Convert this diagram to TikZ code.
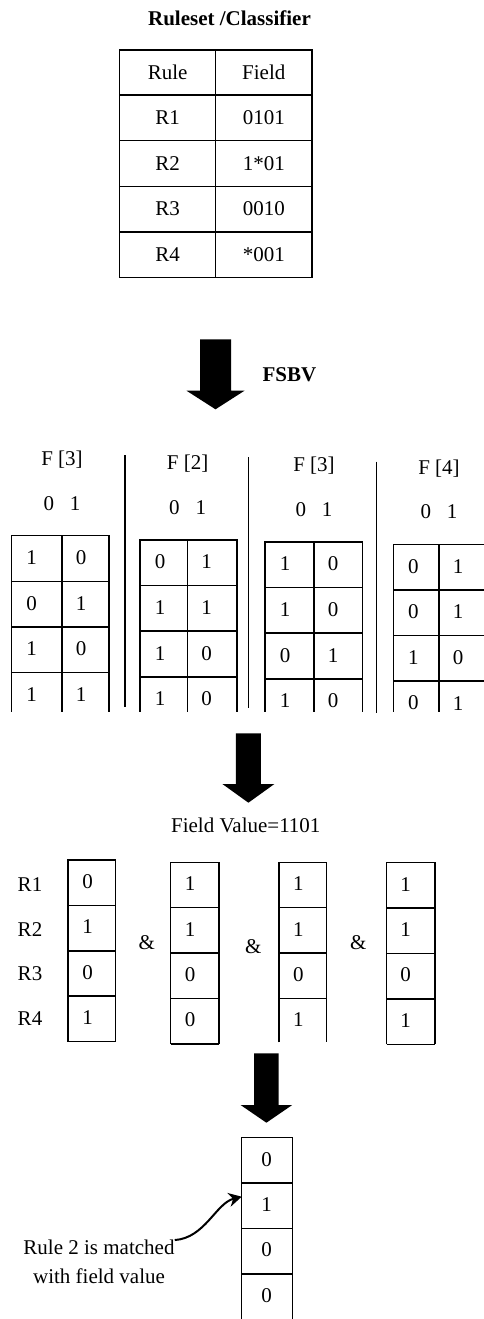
\documentclass[tikz,border=0pt]{standalone}
\usepackage{fontspec}
\setmainfont{Liberation Serif}
\usetikzlibrary{arrows.meta}

\tikzset{
  grid line/.style={line width=1.5pt},
  big arrow/.style={fill=black},
  bold text/.style={font=\fontsize{21}{25}\selectfont\bfseries},
}

% block arrow pointing down: centre x, top, shaft half width, head half width, head start, tip
\newcommand{\blockdown}[6]{%
  \fill[big arrow] (#1-#3,#2) -- (#1+#3,#2) -- (#1+#3,#5) -- (#1+#4,#5)
    -- (#1,#6) -- (#1-#4,#5) -- (#1-#3,#5) -- cycle;}

% FSBV bit vector pair: name, left, mid, right, top, field index, rows
\newcommand{\bitpair}[7]{%
  \node (#1h) at (#3,#5-76) {F [#6]};
  \node (#1z) at (#3,#5-32.5) {0\hspace{16pt}1};
  \draw[grid line] (#2,711.5) -- (#2,#5) -- (#4,#5) -- (#4,711.5);
  \draw[grid line] (#3,#5) -- (#3,711.5);
  \foreach \j in {1,2,3}
    \draw[grid line] (#2,#5+45.6*\j) -- (#4,#5+45.6*\j);
  \foreach \p/\q [count=\i from 0] in {#7} {
    \node (#1a\i) at (#2+20,#5+22+45.6*\i) {\p};
    \node (#1b\i) at (#3+19,#5+22+45.6*\i) {\q};
  }}

% single bit column: name, left, right, top, length, dividers, text shift, bits
\newcommand{\bitcol}[8]{%
  \draw[grid line] (#2,#4+#5) -- (#2,#4) -- (#3,#4) -- (#3,#4+#5);
  \foreach \j in {#6}
    \draw[grid line] (#2,#4+45.4*\j) -- (#3,#4+45.4*\j);
  \foreach \p [count=\i from 0] in {#8}
    \node (#1\i) at (#2+#7,#4+21.5+45.4*\i) {\p};}

\begin{document}
\begin{tikzpicture}[x=1pt,y=-1pt,font=\fontsize{21}{28.7}\selectfont,inner sep=0pt]
  \useasboundingbox (0,0) rectangle (484,1319);
  \clip (0,0) rectangle (484,1319);

  % rule set
  \node[bold text] (title) at (229.5,18) {Ruleset /Classifier};
  \draw[grid line] (119.5,50) rectangle (312,277.7);
  \draw[grid line] (215.7,50) -- (215.7,277.7);
  \foreach \y in {95,140.7,186.7,232}
    \draw[grid line] (119.5,\y) -- (312,\y);
  \foreach \r/\f [count=\i from 0] in {Rule/Field,R1/0101,R2/1*01,R3/0010,R4/*001} {
    \node (rule\i) at (167.7,72.5+45.5*\i) {\r};
    \node (field\i) at (263.8,72.5+45.5*\i) {\f};
  }

  \blockdown{215.5}{339.3}{15.5}{29}{390.7}{409.3}
  \node[bold text] (fsbv) at (289.5,375) {FSBV};

  % bit vectors per field
  \bitpair{fa}{11.7}{62}{109}{535.7}{3}{1/0,0/1,1/0,1/1}
  \bitpair{fb}{140}{187.7}{237}{540}{2}{0/1,1/1,1/0,1/0}
  \bitpair{fc}{265}{314}{362.7}{542}{3}{1/0,1/0,0/1,1/0}
  \bitpair{fd}{393.3}{439}{490}{544.3}{4}{0/1,0/1,1/0,0/1}
  \foreach \x/\a/\b in {125/455.3/707.3,248.3/457.3/708.3,376.7/461.7/712.7}
    \draw[grid line] (\x,\a) -- (\x,\b);

  \blockdown{248.4}{733.3}{12.5}{26}{784}{802.7}
  \node (value) at (245.8,825) {Field Value=1101};

  % selected bits and the AND
  \foreach \r [count=\i from 0] in {R1,R2,R3,R4}
    \node (r\i) at (30,885+44.4*\i) {\r};
  \bitcol{va}{68}{115.7}{860}{181.6}{1,2,3,4}{19.7}{0,1,0,1}
  \bitcol{vb}{170.7}{219}{862.3}{181.6}{1,2,3,4}{19.3}{1,1,0,0}
  \bitcol{vc}{279}{326.7}{862.3}{180}{1,2,3}{19.3}{1,1,0,1}
  \bitcol{vd}{386.7}{435}{862.7}{181.6}{1,2,3,4}{19}{1,1,0,1}
  \node (and1) at (146.7,942.7) {\&};
  \node (and2) at (253.3,946.7) {\&};
  \node (and3) at (358.3,942.7) {\&};

  \blockdown{266.4}{1053.3}{12.3}{25.8}{1105}{1122.7}
  \bitcol{res}{241.7}{292.7}{1137.7}{190}{1,2,3}{25}{0,1,0,0}

  \node[align=center] (note) at (99,1262) {Rule 2 is matched\\with field value};
  \coordinate (hit) at (241.7,1196.7);
  \draw[line width=2pt,-{Stealth[length=13pt,width=14pt]}]
    (note.north east) .. controls (205,1238) and (216,1203) .. (hit);
\end{tikzpicture}
\end{document}
